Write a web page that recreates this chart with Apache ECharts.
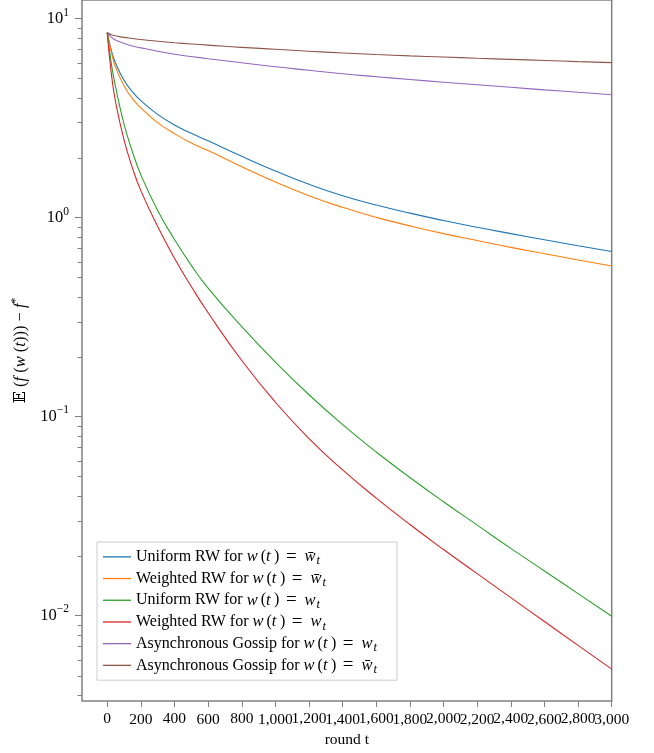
<!DOCTYPE html>
<html>
<head>
<meta charset="utf-8">
<script src="https://cdn.jsdelivr.net/npm/echarts@6/dist/echarts.min.js"></script>
<style>
  html, body { margin: 0; padding: 0; background: #fff; }
  #chart { width: 654px; height: 753px; }
</style>
</head>
<body>
<div id="chart"></div>
<script>
const rounds = [0, 25, 50, 100, 150, 200, 300, 400, 500, 600, 800, 1000, 1200, 1400, 1600, 1800, 2000, 2200, 2400, 2600, 2800, 3000];

const uniformAvg   = [8.5, 6.9, 5.96, 4.9, 4.28, 3.87, 3.3, 2.92, 2.65, 2.43, 2.03, 1.714, 1.469, 1.288, 1.156, 1.052, 0.966, 0.893, 0.83, 0.773, 0.721, 0.675];
const weightedAvg  = [8.5, 6.75, 5.69, 4.6, 3.96, 3.56, 3.0, 2.64, 2.37, 2.17, 1.80, 1.51, 1.288, 1.125, 1.002, 0.908, 0.83, 0.766, 0.708, 0.658, 0.612, 0.571];
const uniformLast  = [8.5, 5.89, 4.52, 2.95, 2.14, 1.64, 1.084, 0.776, 0.575, 0.4416, 0.2825, 0.1875, 0.1285, 0.091, 0.0662, 0.0493, 0.0372, 0.0284, 0.0217, 0.0167, 0.01285, 0.00989];
const weightedLast = [8.5, 5.25, 3.8, 2.455, 1.778, 1.365, 0.902, 0.624, 0.45, 0.332, 0.191, 0.1178, 0.0774, 0.0538, 0.0388, 0.0286, 0.0214, 0.0162, 0.01227, 0.0093, 0.00706, 0.00536];
const gossipLast   = [8.5, 8.05, 7.8, 7.5, 7.28, 7.13, 6.86, 6.62, 6.45, 6.29, 6.0, 5.73, 5.5, 5.28, 5.105, 4.94, 4.79, 4.65, 4.515, 4.385, 4.263, 4.14];
const gossipAvg    = [8.5, 8.3, 8.2, 8.05, 7.95, 7.85, 7.7, 7.57, 7.46, 7.36, 7.17, 7.02, 6.86, 6.72, 6.6, 6.5, 6.41, 6.32, 6.24, 6.16, 6.08, 6.01];

const methods  = ['Uniform RW', 'Weighted RW', 'Uniform RW', 'Weighted RW', 'Asynchronous Gossip', 'Asynchronous Gossip'];
const averaged = [true, true, false, false, false, true];
const colors   = ['#1f77b4', '#ff7f0e', '#2ca02c', '#d62728', '#9467bd', '#8c564b'];
const values   = [uniformAvg, weightedAvg, uniformLast, weightedLast, gossipLast, gossipAvg];

const xTicks = [0, 200, 400, 600, 800, 1000, 1200, 1400, 1600, 1800, 2000, 2200, 2400, 2600, 2800, 3000];
// the labels overlap, so they are split over two axes to keep echarts from dropping any
const xLabelsA = xTicks.filter((v, i) => i % 2 === 0);
const xLabelsB = xTicks.filter((v, i) => i % 2 === 1);
const yMajor = [0.01, 0.1, 1, 10];
const yMinor = [0.004, 0.005, 0.006, 0.007, 0.008, 0.009,
                0.02, 0.03, 0.04, 0.05, 0.06, 0.07, 0.08, 0.09,
                0.2, 0.3, 0.4, 0.5, 0.6, 0.7, 0.8, 0.9,
                2, 3, 4, 5, 6, 7, 8, 9];

const yMin = Math.pow(10, -2.431);
const yMax = Math.pow(10, 1.0937);

const serif = 'Liberation Serif';
const gray = '#808080';

const names = methods.map((m, i) => m + ' for w(t) = ' + (averaged[i] ? 'w̄' : 'w') + '_t');

const legendRich = {
  r: { fontFamily: serif, fontSize: 16, lineHeight: 21.7, color: '#000' },
  w: { fontFamily: serif, fontSize: 16.5, fontStyle: 'italic', lineHeight: 21.7, color: '#000', padding: [0, 3, 0, 0] },
  t: { fontFamily: serif, fontSize: 16.5, fontStyle: 'italic', lineHeight: 21.7, color: '#000', padding: [0, 3.5, 0, 0] },
  q: { fontFamily: serif, fontSize: 19, lineHeight: 21.7, color: '#000', padding: [0, 8, 0, 6.5] },
  b: { fontFamily: serif, fontSize: 16.5, fontStyle: 'italic', lineHeight: 21.7, color: '#000', padding: [0, 1, 0, 0] },
  s: { fontFamily: serif, fontSize: 12.5, fontStyle: 'italic', lineHeight: 12, verticalAlign: 'bottom', color: '#000' }
};

const xLabelStyle = labels => ({
  customValues: labels, margin: 10, color: '#000', fontFamily: serif, fontSize: 15.5,
  showMinLabel: true, showMaxLabel: true,
  formatter: v => v.toLocaleString('en-US')
});

const chart = echarts.init(document.getElementById('chart'));

const option = {
  animation: false,
  backgroundColor: '#fff',
  grid: [
    { left: 82, right: 42.3, top: -2, bottom: 51.3, show: true, borderColor: gray, borderWidth: 1.5 },
    { left: 82, right: 42.3, top: -2, bottom: 51.3 }
  ],
  xAxis: [
    {
      type: 'value', gridIndex: 0, min: -150, max: 3000,
      axisLine: { show: false, onZero: false },
      axisTick: { show: true, length: 6, customValues: xTicks, lineStyle: { color: gray, width: 1 } },
      axisLabel: xLabelStyle(xLabelsA),
      splitLine: { show: false },
      name: 'round t', nameLocation: 'middle', nameGap: 31,
      nameTextStyle: { fontFamily: serif, fontSize: 15.5, color: '#000' }
    },
    {
      type: 'value', gridIndex: 1, min: -150, max: 3000,
      axisLine: { show: false, onZero: false },
      axisTick: { show: false },
      axisLabel: xLabelStyle(xLabelsB),
      splitLine: { show: false }
    }
  ],
  yAxis: [
    {
      type: 'log', gridIndex: 0, min: yMin, max: yMax,
      axisLine: { show: false, onZero: false },
      axisTick: { show: true, length: 7, customValues: yMajor, lineStyle: { color: gray, width: 1 } },
      minorTick: { show: false },
      splitLine: { show: false },
      axisLabel: {
        customValues: yMajor, margin: 13,
        formatter: v => {
          const e = Math.round(Math.log10(v));
          return '{b|10}{e|' + (e < 0 ? '−' + (-e) : e) + '}';
        },
        rich: {
          b: { fontFamily: serif, fontSize: 16.5, lineHeight: 24, color: '#000' },
          e: { fontFamily: serif, fontSize: 11.5, lineHeight: 14, verticalAlign: 'top', color: '#000' }
        }
      },
      name: '{b|𝔼}{r| (}{i|f}{r| (}{i|w}{r| (}{i|t}{r|))) − }{i|f}{p|*}',
      nameLocation: 'middle', nameGap: 46,
      nameTextStyle: {
        rich: {
          b: { fontFamily: 'DejaVu Serif', fontSize: 16, lineHeight: 22, color: '#000' },
          r: { fontFamily: serif, fontSize: 16.5, lineHeight: 22, color: '#000' },
          i: { fontFamily: serif, fontSize: 16.5, fontStyle: 'italic', lineHeight: 22, color: '#000' },
          p: { fontFamily: serif, fontSize: 11.5, lineHeight: 12, verticalAlign: 'top', color: '#000' }
        }
      }
    },
    {
      type: 'log', gridIndex: 1, min: yMin, max: yMax,
      axisLine: { show: false, onZero: false },
      axisTick: { show: true, length: 4.5, customValues: yMinor, lineStyle: { color: gray, width: 1 } },
      axisLabel: { show: false },
      splitLine: { show: false },
      minorTick: { show: false }
    }
  ],
  legend: {
    orient: 'vertical', left: 97, top: 542,
    backgroundColor: '#fff', borderColor: '#cccccc', borderWidth: 1, borderRadius: 0,
    padding: [4, 20, 4, 6], itemGap: 0,
    icon: 'rect', itemWidth: 28, itemHeight: 1.3,
    data: names,
    textStyle: { rich: legendRich, lineHeight: 21.7, fontSize: 16, fontFamily: serif },
    formatter: name => {
      const k = names.indexOf(name);
      return '{r|' + methods[k] + ' for }{w|w}{r|(}{t|t}{r|)}{q|=}{b|' + (averaged[k] ? 'w̄' : 'w') + '}{s|t}';
    }
  },
  series: values.map((vals, k) => ({
    name: names[k],
    type: 'line',
    xAxisIndex: 0, yAxisIndex: 0,
    smooth: true,
    showSymbol: false,
    symbol: 'none',
    lineStyle: { color: colors[k], width: 1.1 },
    itemStyle: { color: colors[k] },
    data: rounds.map((t, j) => [t, vals[j]])
  }))
};

chart.setOption(option);
</script>
</body>
</html>
